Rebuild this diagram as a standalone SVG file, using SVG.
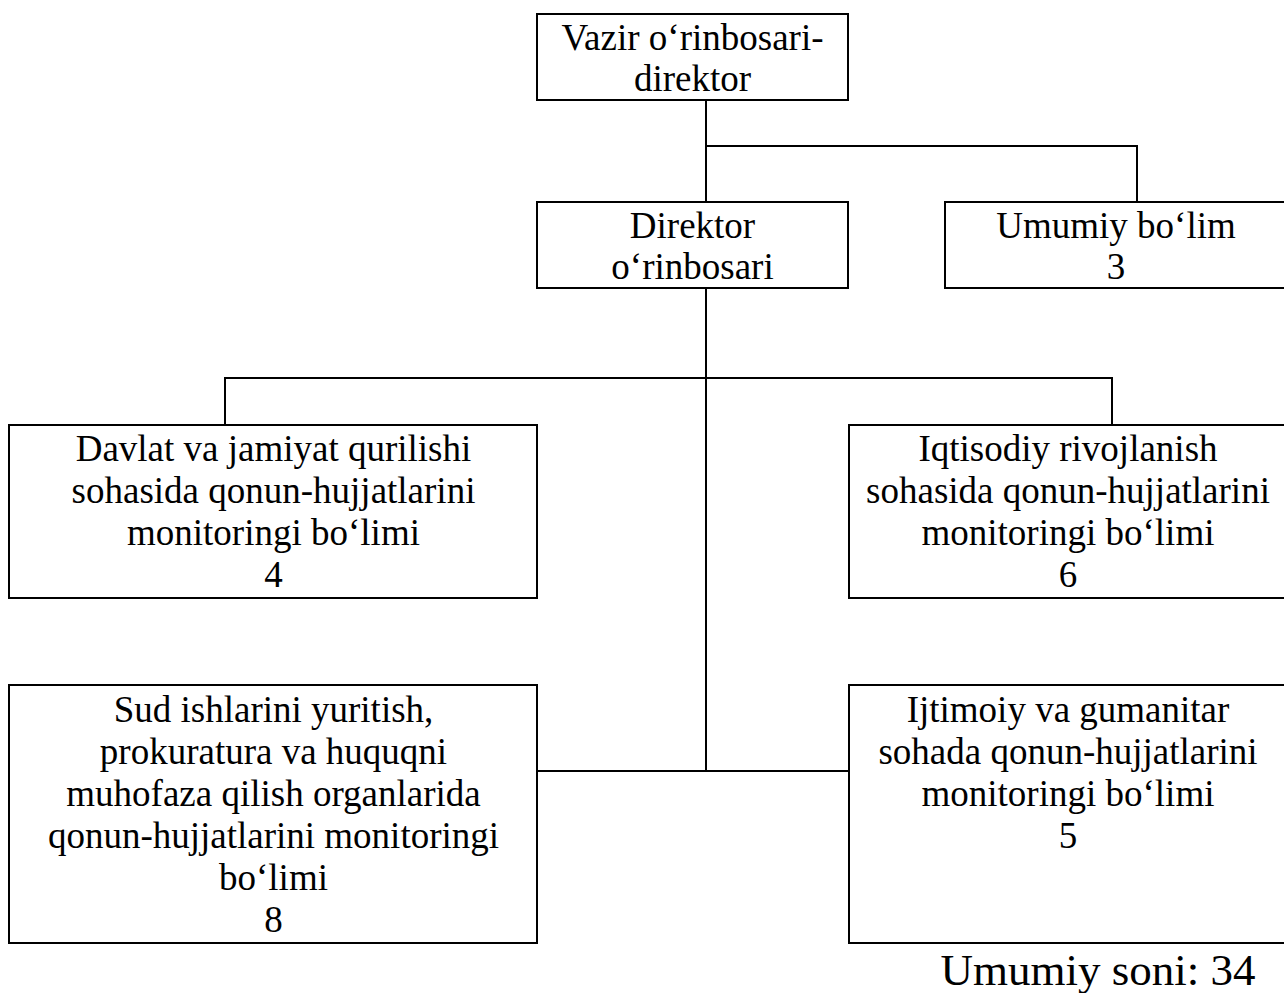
<svg xmlns="http://www.w3.org/2000/svg" width="1284" height="993" viewBox="0 0 1284 993">
  <style>
    .box { fill: #ffffff; stroke: #000000; stroke-width: 2; }
    .wire { fill: none; stroke: #000000; stroke-width: 2; }
    .lbl { font-family: "Liberation Serif", "Times New Roman", serif; font-size: 37px; fill: #000000; text-anchor: middle; }
    .total { font-family: "Liberation Serif", "Times New Roman", serif; font-size: 45px; fill: #000000; text-anchor: middle; }
  </style>
  <rect width="1284" height="993" fill="#ffffff"/>

  <!-- connectors -->
  <g id="connectors">
    <path class="wire" d="M706,100 V202"/>
    <path class="wire" d="M706,146 H1137 V202"/>
    <path class="wire" d="M706,288 V771"/>
    <path class="wire" d="M225,425 V378 H1112 V425"/>
    <path class="wire" d="M537,771 H849"/>
  </g>

  <g id="node-vazir">
    <rect class="box" x="537" y="14" width="311" height="86"/>
    <text class="lbl" x="692.5" y="50">Vazir o‘rinbosari-</text>
    <text class="lbl" x="692.5" y="91">direktor</text>
  </g>

  <g id="node-direktor-orinbosari">
    <rect class="box" x="537" y="202" width="311" height="86"/>
    <text class="lbl" x="692.5" y="238">Direktor</text>
    <text class="lbl" x="692.5" y="279">o‘rinbosari</text>
  </g>

  <!-- right-hand boxes run past the page edge, so their right side is not drawn -->
  <g id="node-umumiy">
    <rect class="box" x="945" y="202" width="360" height="86"/>
    <text class="lbl" x="1116" y="238">Umumiy bo‘lim</text>
    <text class="lbl" x="1116" y="279">3</text>
  </g>

  <g id="node-davlat">
    <rect class="box" x="9" y="425" width="528" height="173"/>
    <text class="lbl" x="273.5" y="461">Davlat va jamiyat qurilishi</text>
    <text class="lbl" x="273.5" y="503">sohasida qonun-hujjatlarini</text>
    <text class="lbl" x="273.5" y="545">monitoringi bo‘limi</text>
    <text class="lbl" x="273.5" y="587">4</text>
  </g>

  <g id="node-iqtisodiy">
    <rect class="box" x="849" y="425" width="460" height="173"/>
    <text class="lbl" x="1068" y="461">Iqtisodiy rivojlanish</text>
    <text class="lbl" x="1068" y="503">sohasida qonun-hujjatlarini</text>
    <text class="lbl" x="1068" y="545">monitoringi bo‘limi</text>
    <text class="lbl" x="1068" y="587">6</text>
  </g>

  <g id="node-sud">
    <rect class="box" x="9" y="685" width="528" height="258"/>
    <text class="lbl" x="273.5" y="722">Sud ishlarini yuritish,</text>
    <text class="lbl" x="273.5" y="764">prokuratura va huquqni</text>
    <text class="lbl" x="273.5" y="806">muhofaza qilish organlarida</text>
    <text class="lbl" x="273.5" y="848">qonun-hujjatlarini monitoringi</text>
    <text class="lbl" x="273.5" y="890">bo‘limi</text>
    <text class="lbl" x="273.5" y="932">8</text>
  </g>

  <g id="node-ijtimoiy">
    <rect class="box" x="849" y="685" width="460" height="258"/>
    <text class="lbl" x="1068" y="722">Ijtimoiy va gumanitar</text>
    <text class="lbl" x="1068" y="764">sohada qonun-hujjatlarini</text>
    <text class="lbl" x="1068" y="806">monitoringi bo‘limi</text>
    <text class="lbl" x="1068" y="848">5</text>
  </g>

  <g id="total">
    <text class="total" x="1098" y="985">Umumiy soni: 34</text>
  </g>
</svg>
